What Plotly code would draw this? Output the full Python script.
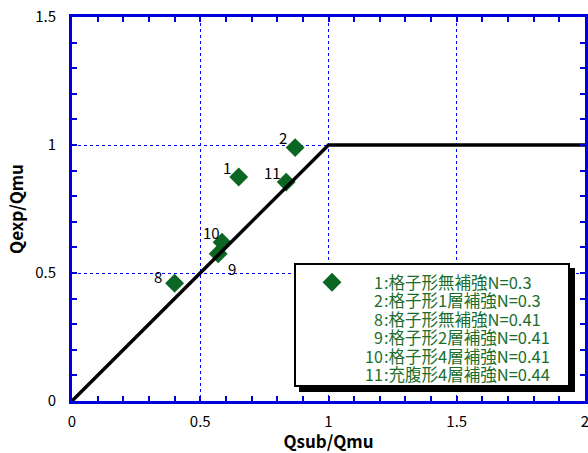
import plotly.graph_objects as go

# ---- data ----
point_ids = ["1", "2", "8", "9", "10", "11"]
qsub_qmu = [0.65, 0.87, 0.40, 0.57, 0.585, 0.835]
qexp_qmu = [0.875, 0.99, 0.46, 0.575, 0.62, 0.855]

ref_x = [0, 1, 2]
ref_y = [0, 1, 1]

legend_nums = ["1", "2", "8", "9", "10", "11"]
legend_texts = [
    "格子形無補強N=0.3",
    "格子形1層補強N=0.3",
    "格子形無補強N=0.41",
    "格子形2層補強N=0.41",
    "格子形4層補強N=0.41",
    "充腹形4層補強N=0.44",
]

x_title = "Qsub/Qmu"
y_title = "Qexp/Qmu"

# ---- style / layout (page pixel coordinates) ----
FONT = "Noto Sans CJK JP, Noto Sans, sans-serif"
BLUE = "#0000DD"
GRIDBLUE = "#0000FF"
GREEN = "#0B6623"
TEXTGREEN = "#1A6E2C"
W, H = 588, 453
PL, PR, PT, PB = 72, 585, 17, 401
ML, MR, MT, MB = PL, W - PR, PT, H - PB
PW, PH = W - ML - MR, H - MT - MB

def px(xpage):
    return (xpage - PL) / PW

def py(ypage):
    return (PB - ypage) / PH

label_shift = [(-12, 10), (-12, 10), (-17, 7), (14, -15), (-11, 10), (-14, 10)]

fig = go.Figure()
fig.add_trace(go.Scatter(
    x=qsub_qmu, y=qexp_qmu, mode="markers", name=" ",
    marker=dict(symbol="diamond", size=14.5, color=GREEN, line=dict(width=0)),
    showlegend=True, hoverinfo="skip",
))
fig.add_trace(go.Scatter(
    x=ref_x, y=ref_y, mode="lines", line=dict(color="black", width=3.5),
    showlegend=False, hoverinfo="skip",
))

annotations = []
for pid, xv, yv, (dx, dy) in zip(point_ids, qsub_qmu, qexp_qmu, label_shift):
    annotations.append(dict(x=xv, y=yv, xref="x", yref="y", text=pid, showarrow=False,
                            xshift=dx, yshift=dy, font=dict(family=FONT, size=15, color="black")))

line_y = [281.5, 300, 318.5, 337, 355.5, 374]
for num, txt, yp in zip(legend_nums, legend_texts, line_y):
    annotations.append(dict(x=px(384), y=py(yp), xref="paper", yref="paper", text=num,
                            showarrow=False, xanchor="right", yanchor="middle", borderpad=0,
                            font=dict(family=FONT, size=16, color=TEXTGREEN)))
    annotations.append(dict(x=px(383), y=py(yp), xref="paper", yref="paper", text=":" + txt,
                            showarrow=False, xanchor="left", yanchor="middle", borderpad=0,
                            font=dict(family=FONT, size=16.5, color=TEXTGREEN)))

shapes = [
    dict(type="rect", xref="paper", yref="paper", x0=px(299), x1=px(575), y0=py(392), y1=py(268),
         fillcolor="black", line=dict(width=0), layer="above"),
    dict(type="rect", xref="paper", yref="paper", x0=px(295), x1=px(569), y0=py(386), y1=py(264),
         fillcolor="white", line=dict(color="black", width=2), layer="above"),
]

axis_common = dict(
    showline=True, linecolor=BLUE, linewidth=3, mirror="ticks",
    ticks="inside", ticklen=5, tickwidth=2, tickcolor=BLUE,
    minor=dict(dtick=0.1, ticks="inside", ticklen=5, tickwidth=2, tickcolor=BLUE, showgrid=False),
    showgrid=True, gridcolor=GRIDBLUE, gridwidth=1, griddash="dot",
    zeroline=False, dtick=0.5, tick0=0, ticklabeloverflow="allow",
    tickfont=dict(family=FONT, size=15, color="black"),
)

fig.update_layout(
    width=W, height=H, margin=dict(l=ML, r=MR, t=MT, b=MB, autoexpand=False),
    paper_bgcolor="white", plot_bgcolor="white",
    xaxis=dict(range=[0, 2], title=dict(text=f"<b>{x_title}</b>", font=dict(family=FONT, size=17, color="black"), standoff=8),
               ticklabelstandoff=5, **axis_common),
    yaxis=dict(range=[0, 1.5], title=dict(text=f"<b>{y_title}</b>", font=dict(family=FONT, size=17, color="black"), standoff=8),
               ticklabelstandoff=10, **axis_common),
    legend=dict(x=px(312), y=py(266), xanchor="left", yanchor="top", bgcolor="rgba(0,0,0,0)",
                borderwidth=0, font=dict(family=FONT, size=15)),
    annotations=annotations, shapes=shapes,
)

fig.write_html("out.html", config={"displayModeBar": False},
               post_script="document.body.style.margin='0';document.body.style.overflow='hidden';")
